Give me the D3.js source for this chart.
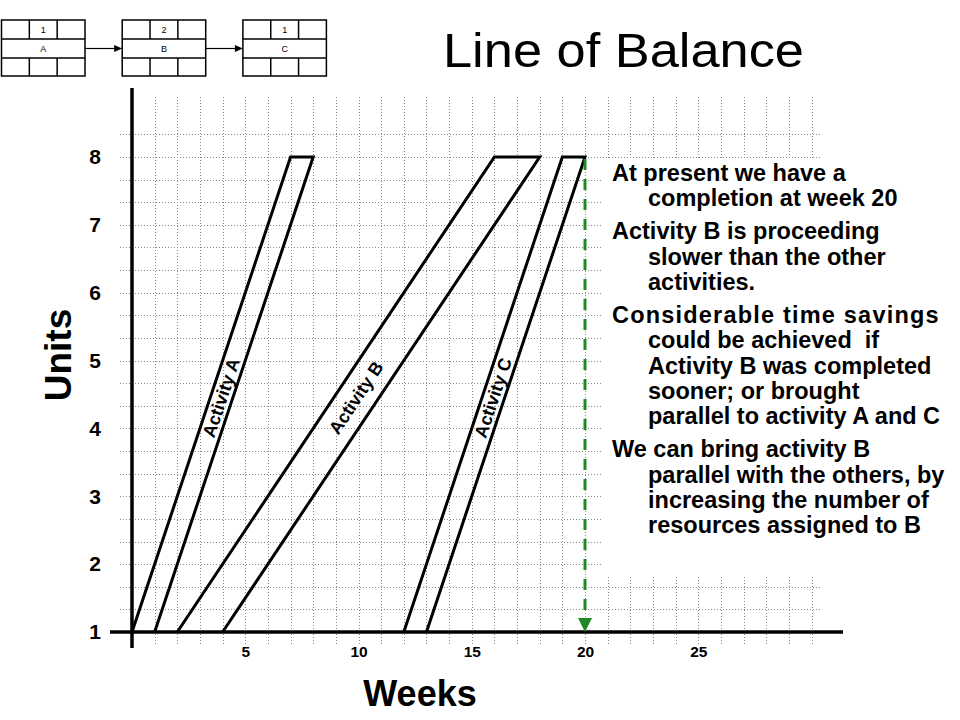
<!DOCTYPE html>
<html>
<head>
<meta charset="utf-8">
<script src="https://cdn.jsdelivr.net/npm/d3@7/dist/d3.min.js"></script>
<style>
  html, body { margin: 0; padding: 0; background: #fff; }
  svg { display: block; font-family: "Liberation Sans", Arial, sans-serif; }
</style>
</head>
<body>
<svg id="chart" width="960" height="720"></svg>
<script>
// ---------- data ----------
const activityNames   = ["A", "B", "C"];
const startFirstUnit  = [0, 2, 12];   // week first crew starts unit 1 (left line)
const startLastUnit   = [1, 4, 13];   // week unit 1 finishes (right line)
const finishFirstUnit = [7, 16, 19];  // week unit 8 starts
const finishLastUnit  = [8, 18, 20];  // week unit 8 finishes
const firstUnit = 1;
const lastUnit = 8;
const labelUnit = 4.45;
const completionWeek = 20;

const weekTicks = [5, 10, 15, 20, 25];
const unitTicks = [1, 2, 3, 4, 5, 6, 7, 8];

const networkNodes = ["A", "B", "C"];
const networkTop   = ["1", "2", "1"];

const noteParagraphs = [
  ["At present we have a", "completion at week 20"],
  ["Activity B is proceeding", "slower than the other", "activities."],
  ["Considerable time savings", "could be achieved  if", "Activity B was completed", "sooner; or brought", "parallel to activity A and C"],
  ["We can bring activity B", "parallel with the others, by", "increasing the number of", "resources assigned to B"]
];

// ---------- setup ----------
const svg = d3.select("#chart");
const x = d3.scaleLinear().domain([0, 30]).range([132, 811.5]);
const y = d3.scaleLinear().domain([1, 8]).range([632, 157]);

// ---------- grid ----------
const grid = svg.append("g").attr("stroke", "#8a8a8a").attr("stroke-width", 1)
  .attr("stroke-dasharray", "1,2").attr("fill", "none");
grid.selectAll("line.v").data(d3.range(1, 31)).join("line")
  .attr("class", "v")
  .attr("x1", d => Math.round(x(d)) + 0.5).attr("x2", d => Math.round(x(d)) + 0.5)
  .attr("y1", 97).attr("y2", 645);
grid.selectAll("line.h").data(d3.range(1, 23).map(i => 1 + i / 3)).join("line")
  .attr("class", "h")
  .attr("y1", d => Math.round(y(d)) + 0.5).attr("y2", d => Math.round(y(d)) + 0.5)
  .attr("x1", 120).attr("x2", 820);

// ---------- axes lines ----------
svg.append("line").attr("x1", x(0)).attr("x2", x(0)).attr("y1", 88).attr("y2", 648)
  .attr("stroke", "#000").attr("stroke-width", 3.5);
svg.append("line").attr("x1", 110).attr("x2", 843).attr("y1", y(1)).attr("y2", y(1))
  .attr("stroke", "#000").attr("stroke-width", 3.5);

// ---------- tick labels ----------
const xAxis = svg.append("g").attr("transform", `translate(0,${y(1)})`)
  .call(d3.axisBottom(x).tickValues(weekTicks).tickSize(0).tickPadding(14));
xAxis.select(".domain").remove();
xAxis.selectAll("text").attr("font-size", 15.5).attr("font-weight", "bold")
  .attr("font-family", "Liberation Sans, Arial, sans-serif").attr("fill", "#000");

const yAxis = svg.append("g").attr("transform", `translate(${x(0)},0)`)
  .call(d3.axisLeft(y).tickValues(unitTicks).tickSize(0).tickPadding(31).tickFormat(d3.format("d")));
yAxis.select(".domain").remove();
yAxis.selectAll("text").attr("font-size", 21).attr("font-weight", "bold")
  .attr("font-family", "Liberation Sans, Arial, sans-serif").attr("fill", "#000");

// ---------- axis titles ----------
svg.append("text").attr("transform", "translate(71,355) rotate(-90)")
  .attr("text-anchor", "middle").attr("font-size", 37).attr("font-weight", "bold").text("Units");
svg.append("text").attr("x", 420).attr("y", 706)
  .attr("text-anchor", "middle").attr("font-size", 36).attr("font-weight", "bold").text("Weeks");

// ---------- activities ----------
const acts = activityNames.map((n, i) => ({
  name: n, s0: startFirstUnit[i], s1: startLastUnit[i], f0: finishFirstUnit[i], f1: finishLastUnit[i]
}));
svg.append("g").selectAll("path").data(acts).join("path")
  .attr("d", d => d3.line()([
    [x(d.s0), y(firstUnit)], [x(d.f0), y(lastUnit)], [x(d.f1), y(lastUnit)], [x(d.s1), y(firstUnit)]
  ]))
  .attr("fill", "none").attr("stroke", "#000").attr("stroke-width", 3).attr("stroke-linejoin", "miter");

svg.append("g").selectAll("text").data(acts).join("text")
  .attr("transform", d => {
    const t = (labelUnit - firstUnit) / (lastUnit - firstUnit);
    const wx = ((d.s0 + (d.f0 - d.s0) * t) + (d.s1 + (d.f1 - d.s1) * t)) / 2;
    const dx = x(d.f0) - x(d.s0), dy = y(lastUnit) - y(firstUnit);
    const ang = Math.atan2(dy, dx) * 180 / Math.PI;
    return `translate(${x(wx)},${y(labelUnit)}) rotate(${ang})`;
  })
  .attr("text-anchor", "middle").attr("dominant-baseline", "central")
  .attr("font-size", 18).attr("font-weight", "bold").text(d => "Activity " + d.name);

// ---------- text panel ----------
svg.append("rect").attr("x", 603).attr("y", 158).attr("width", 230).attr("height", 418).attr("fill", "#fff");

// ---------- completion arrow ----------
const green = "#1f8a24";
svg.append("line").attr("x1", x(completionWeek)).attr("x2", x(completionWeek))
  .attr("y1", y(lastUnit) + 2).attr("y2", y(firstUnit) - 12)
  .attr("stroke", green).attr("stroke-width", 3).attr("stroke-dasharray", "11,9");
svg.append("path")
  .attr("d", d3.line()([
    [x(completionWeek) - 7, y(firstUnit) - 14], [x(completionWeek) + 7, y(firstUnit) - 14], [x(completionWeek), y(firstUnit)]
  ]) + "Z")
  .attr("fill", green);

// ---------- notes ----------
const notes = svg.append("g").attr("font-size", 23.5).attr("font-weight", "bold").attr("fill", "#000");
let by = 181;
noteParagraphs.forEach((para, pi) => {
  if (pi > 0) by += 7.8;
  para.forEach((line, li) => {
    const t = notes.append("text").attr("x", li === 0 ? 612 : 648).attr("y", by)
      .attr("xml:space", "preserve").style("white-space", "pre").text(line);
    if (line.startsWith("Considerable")) t.attr("letter-spacing", 1.2);
    by += 25.3;
  });
});

// ---------- title ----------
svg.append("text").attr("x", 443).attr("y", 67).attr("font-size", 49)
  .attr("textLength", 361).attr("lengthAdjust", "spacingAndGlyphs").text("Line of Balance");

// ---------- network diagram ----------
const boxW = 83.5, boxH = 56, boxTop = 20, boxStep = 120.7, boxLeft = 1.5;
const net = svg.append("g");
networkNodes.forEach((n, i) => {
  const bx = boxLeft + i * boxStep;
  const g = net.append("g").attr("transform", `translate(${bx},${boxTop})`);
  g.append("rect").attr("width", boxW).attr("height", boxH).attr("fill", "none").attr("stroke", "#000").attr("stroke-width", 1.5);
  [19, 38].forEach(yy => g.append("line").attr("x1", 0).attr("x2", boxW).attr("y1", yy).attr("y2", yy).attr("stroke", "#000").attr("stroke-width", 1.5));
  [[0, 19], [38, 56]].forEach(([a, b]) => [boxW / 3, boxW * 2 / 3].forEach(xx =>
    g.append("line").attr("x1", xx).attr("x2", xx).attr("y1", a).attr("y2", b).attr("stroke", "#000").attr("stroke-width", 1.5)));
  g.append("text").attr("x", boxW / 2).attr("y", 13).attr("text-anchor", "middle").attr("font-size", 9).text(networkTop[i]);
  g.append("text").attr("x", boxW / 2).attr("y", 32).attr("text-anchor", "middle").attr("font-size", 9).text(n);
  if (i < networkNodes.length - 1) {
    const ax0 = bx + boxW, ax1 = boxLeft + (i + 1) * boxStep, ay = boxTop + 28.5;
    net.append("line").attr("x1", ax0).attr("x2", ax1 - 6).attr("y1", ay).attr("y2", ay).attr("stroke", "#000").attr("stroke-width", 1.2);
    net.append("path").attr("d", d3.line()([[ax1 - 8, ay - 3.5], [ax1, ay], [ax1 - 8, ay + 3.5]]) + "Z").attr("fill", "#000");
  }
});
</script>
</body>
</html>
